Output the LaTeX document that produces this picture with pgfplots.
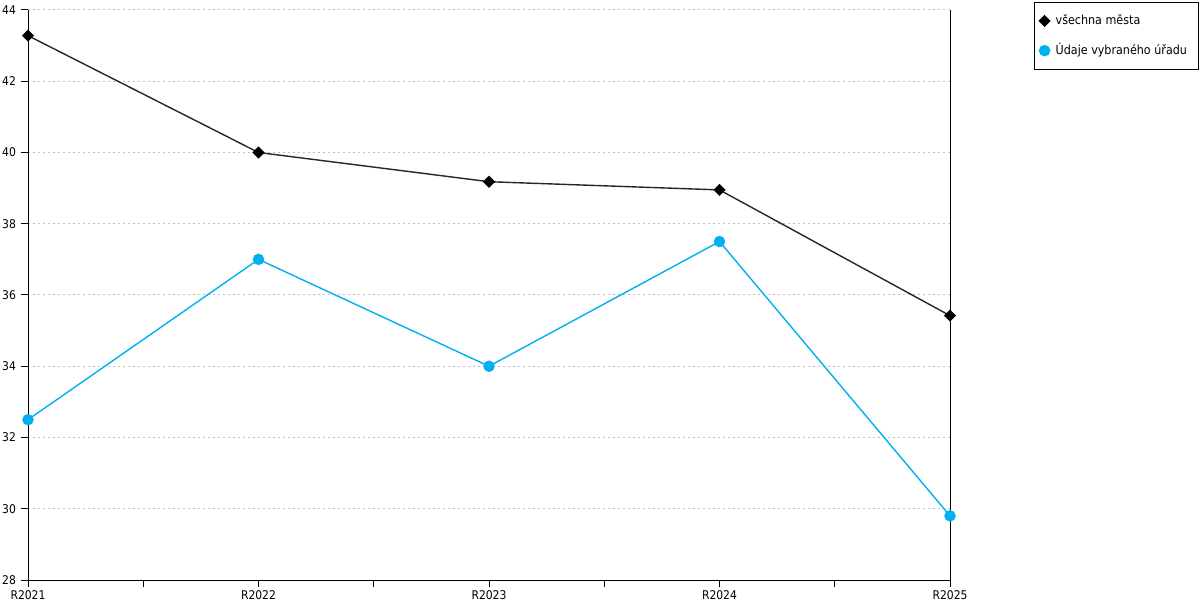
\documentclass[border=0pt]{standalone}
\usepackage{pgfplots}
\pgfplotsset{compat=1.18}
\usepackage{fontspec}
\setmainfont{DejaVu Sans Condensed}
\definecolor{myblue}{HTML}{00B0F0}
\definecolor{gridgray}{HTML}{C0C0C0}
\begin{document}
\begin{tikzpicture}
\useasboundingbox (0,0) rectangle (600pt,300pt);
\begin{axis}[
  at={(14pt,10pt)}, anchor=south west,
  scale only axis, width=461pt, height=285pt,
  xmin=0, xmax=4, ymin=28, ymax=44,
  xtick={0,1,2,3,4},
  xticklabels={R2021,R2022,R2023,R2024,R2025},
  minor x tick num=1,
  ytick={28,30,...,44},
  axis x line*=bottom, axis y line*=left,
  axis line style={black, line width=0.5pt, -},
  tick style={black, line width=0.5pt},
  tick align=outside,
  major tick length=3.5pt, minor tick length=3.5pt,
  ymajorgrids,
  major grid style={gridgray, line width=0.5pt, dash pattern=on 1pt off 1.5pt},
  font=\fontsize{6.2}{7}\selectfont,
  ticklabel style={font=\fontsize{6}{7}\selectfont},
  /pgf/number format/assume math mode=true,
  xticklabel style={yshift=1.5pt},
  yticklabel style={xshift=1pt},
  legend style={at={(1,1)}, anchor=north west, xshift=42pt, yshift=4pt,
    draw=black, line width=0.5pt, font=\fontsize{6.2}{7}\selectfont,
    inner xsep=2.5pt, inner ysep=4pt, row sep=4pt,
    nodes={inner xsep=3pt}},
  legend cell align=left,
  legend image code/.code={\draw[only marks] plot coordinates {(0.1cm,0cm)};},
  clip=false,
]
\addplot[black!85, line width=0.7pt, mark=square*, mark size=1.8pt, mark options={fill=black, draw=black, rotate=45}]
  coordinates {(0,43.28) (1,40.0) (2,39.18) (3,38.95) (4,35.42)};
\addlegendentry{všechna města}
\addplot[myblue, line width=0.7pt, mark=*, mark size=2.5pt, mark options={fill=myblue, draw=myblue}]
  coordinates {(0,32.5) (1,37.0) (2,34.0) (3,37.5) (4,29.8)};
\addlegendentry{Údaje vybraného úřadu}
\draw[black, line width=0.5pt] (rel axis cs:1,0) -- (rel axis cs:1,1);
\end{axis}
\end{tikzpicture}
\end{document}
